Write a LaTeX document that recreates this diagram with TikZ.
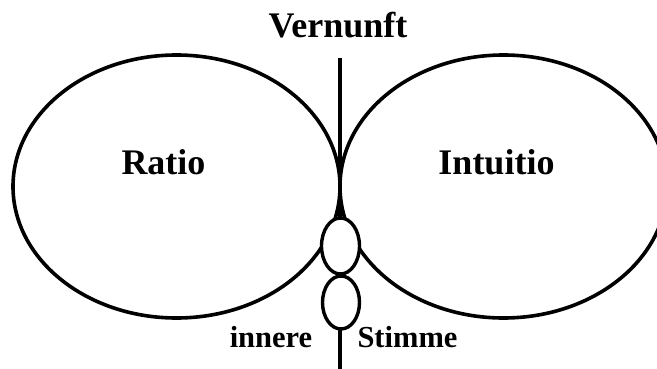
\documentclass[tikz,border=0pt]{standalone}
\usepackage{fontspec}
\setmainfont{Liberation Serif}
\usetikzlibrary{shapes.geometric}
\tikzset{
  ring/.style={draw=black, line width=3.6pt, ellipse, inner sep=0pt},
  small/.style={ring, fill=white, line width=3.4pt},
  bigtxt/.style={font=\fontsize{36}{40}\selectfont\bfseries, anchor=base, inner sep=0pt},
  smalltxt/.style={font=\fontsize{30.5}{34}\selectfont\bfseries, anchor=base, inner sep=0pt},
  axis/.style={draw=black, line width=3.2pt}
}
\begin{document}
\begin{tikzpicture}[x=1pt,y=-1pt]
\useasboundingbox (0,0) rectangle (657,369);
\clip (0,0) rectangle (657,369);
\fill[white] (0,0) rectangle (657,369);
\coordinate (vtop) at (340,58);
\coordinate (vbot) at (340,372);
\node[ring, minimum width=327pt, minimum height=263pt] (ratio) at (176.5,186.5) {};
\node[ring, minimum width=327pt, minimum height=263pt] (intuitio) at (503.5,186.5) {};
\draw[axis] (vtop) -- (vbot);
\node[small, minimum width=38pt, minimum height=56pt] (upper) at (340.5,246) {};
\node[small, minimum width=37pt, minimum height=53pt] (lower) at (341,302.5) {};
\node[bigtxt] (vernunft) at (338,38) {Vernunft};
\node[bigtxt] (tratio) at (163.5,175) {Ratio};
\node[bigtxt] (tintuitio) at (496.5,175) {Intuitio};
\node[smalltxt] (innere) at (271,347) {innere};
\node[smalltxt] (stimme) at (407.5,347) {Stimme};
\end{tikzpicture}
\end{document}
